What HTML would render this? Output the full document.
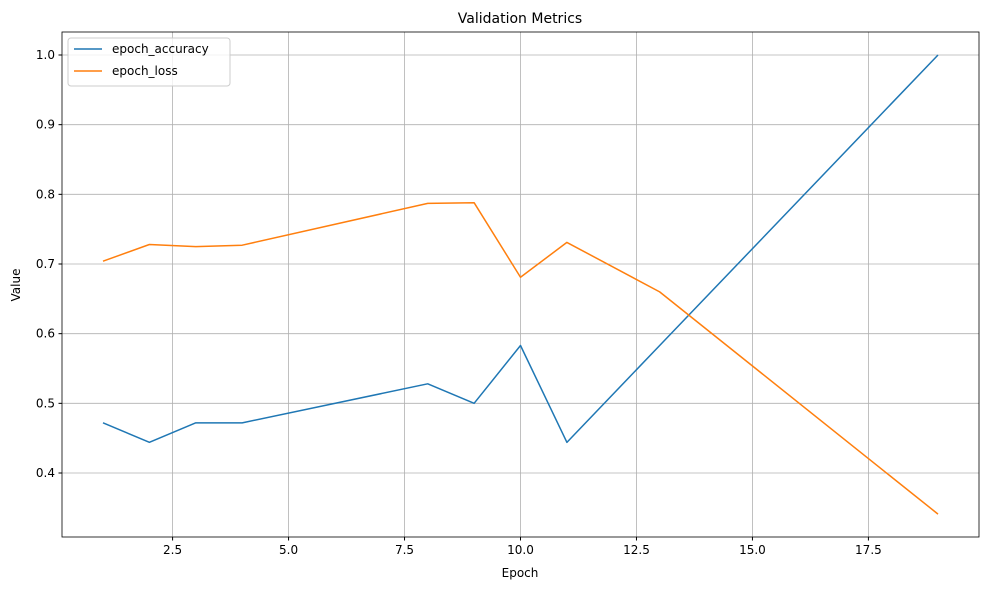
<!DOCTYPE html>
<html><head><meta charset="utf-8"><style>
body{margin:0;background:#fff;font-family:"Liberation Sans","DejaVu Sans",sans-serif;}
svg text{font-family:"DejaVu Sans","Liberation Sans",sans-serif;}
</style></head><body>
<svg id="chart" width="989" height="590" xmlns="http://www.w3.org/2000/svg">
<rect width="989" height="590" fill="#fff"/>
<text x="520" y="23" font-size="14" text-anchor="middle" fill="#000">Validation Metrics</text>
<g id="grid"></g><g id="ticks"></g><g id="series"></g>
<rect x="62" y="32" width="917" height="505" fill="none" stroke="#000" stroke-width="0.8"/>
<text x="520" y="577" font-size="12" text-anchor="middle">Epoch</text>
<text x="20" y="285" font-size="12" text-anchor="middle" transform="rotate(-90 20 285)">Value</text>
<g>
<rect x="68" y="38" width="162" height="48" rx="3" fill="#fff" fill-opacity="0.8" stroke="#ccc"/>
<line x1="74" y1="49" x2="102" y2="49" stroke="#1f77b4" stroke-width="1.5"/>
<text x="112" y="53" font-size="12">epoch_accuracy</text>
<line x1="74" y1="71" x2="102" y2="71" stroke="#ff7f0e" stroke-width="1.5"/>
<text x="112" y="75" font-size="12">epoch_loss</text>
</g>
</svg>
<script>
const epochs=[1,2,3,4,8,9,10,11,13,19];
const accuracy=[0.472,0.444,0.472,0.472,0.528,0.5,0.583,0.444,0.583,1.0];
const loss=[0.704,0.728,0.725,0.727,0.787,0.788,0.681,0.731,0.660,0.341];
const xTicks=[2.5,5.0,7.5,10.0,12.5,15.0,17.5];
const yTicks=[0.4,0.5,0.6,0.7,0.8,0.9,1.0];
const NS="http://www.w3.org/2000/svg";
function X(v){return 103+(v-1)*(938-103)/18;}
function Y(v){return 473-(v-0.4)*(473-55)/0.6;}
function mk(t,a,p){const e=document.createElementNS(NS,t);for(const k in a)e.setAttribute(k,a[k]);p.appendChild(e);return e;}
const g=document.getElementById('grid'),tk=document.getElementById('ticks'),s=document.getElementById('series');
xTicks.forEach(v=>{const x=X(v);
 const l=mk('line',{x1:x,x2:x,y1:32,y2:537,stroke:'#b0b0b0','stroke-width':0.8},g);
 
 
 mk('line',{x1:x,x2:x,y1:537,y2:540.5,stroke:'#000'},tk);
 const t=mk('text',{x:x,y:554,'font-size':12,'text-anchor':'middle'},tk);t.textContent=v.toFixed(1);
 
 });
yTicks.forEach(v=>{const y=Y(v);
 const l=mk('line',{x1:62,x2:979,y1:y,y2:y,stroke:'#b0b0b0','stroke-width':0.8},g);
 
 
 mk('line',{x1:58.5,x2:62,y1:y,y2:y,stroke:'#000'},tk);
 const t=mk('text',{x:55,y:y+4,'font-size':12,'text-anchor':'end'},tk);t.textContent=v.toFixed(1);
 
 });
function line(vals,color,name){const p=mk('polyline',{points:vals.map((v,i)=>X(epochs[i])+','+Y(v)).join(' '),fill:'none',stroke:color,'stroke-width':1.5,'stroke-linejoin':'round'},s);
 
 }
line(accuracy,'#1f77b4','accuracy-line');
line(loss,'#ff7f0e','loss-line');
</script>
</body></html>
